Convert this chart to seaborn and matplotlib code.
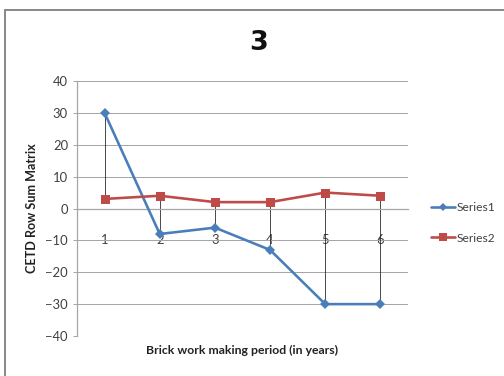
import matplotlib
matplotlib.use("Agg")
import matplotlib.pyplot as plt
from matplotlib.lines import Line2D
from matplotlib.patches import Rectangle
import numpy as np
import pandas as pd
import seaborn as sns

# Data
periods = [1, 2, 3, 4, 5, 6]
series1 = [30, -8, -6, -13, -30, -30]
series2 = [3, 4, 2, 2, 5, 4]
series_names = ["Series1", "Series2"]
y_ticks = [40, 30, 20, 10, 0, -10, -20, -30, -40]

title = "3"
x_label = "Brick work making period (in years)"
y_label = "CETD Row Sum Matrix"

df = pd.DataFrame({
    "period": periods * 2,
    "value": series1 + series2,
    "series": [series_names[0]] * len(periods) + [series_names[1]] * len(periods),
})

sns.set_theme(style="white")
plt.rcParams["font.family"] = ["Lato", "DejaVu Sans"]

blue = "#4A7EBB"
red = "#BE4B48"
grid_c = "#a6a6a6"
text_c = "#404040"

fig = plt.figure(figsize=(504 / 72, 376 / 72), dpi=72)
ax = fig.add_axes([77 / 504, 1 - 336 / 376, (408 - 77) / 504, (336 - 81) / 376])

# High-low lines between the two series at each period
lo = np.minimum(series1, series2)
hi = np.maximum(series1, series2)
ax.vlines(periods, lo, hi, color="#222222", linewidth=0.8, zorder=2)

sns.lineplot(
    data=df, x="period", y="value", hue="series", style="series",
    palette=[blue, red], markers=["D", "s"], dashes=False,
    linewidth=2.6, markersize=8, markeredgewidth=0, ax=ax, legend=False, zorder=3,
)
for line, ms in zip(ax.lines, [7, 9]):
    line.set_markersize(ms)

ax.set_xlim(0.5, 6.5)
ax.set_ylim(-40, 40)
ax.set_yticks(y_ticks)
ax.set_xticks(periods)
ax.set_xticklabels([str(p) for p in periods])
ax.yaxis.grid(True, color=grid_c, linewidth=1)
ax.set_axisbelow(True)

for s in ["top", "right"]:
    ax.spines[s].set_visible(False)
ax.spines["left"].set_color(grid_c)
ax.spines["bottom"].set_color(grid_c)
ax.spines["bottom"].set_position(("data", 0))

ax.tick_params(axis="y", which="major", left=True, length=4, width=1, color=grid_c,
               labelsize=13, labelcolor=text_c, pad=5)
ax.tick_params(axis="x", which="major", bottom=False, labelsize=13,
               labelcolor=text_c, pad=20)

ax.set_xlabel("")
ax.set_ylabel("")
fig.text(242 / 504, 1 - 350 / 376, x_label, ha="center", va="center",
         fontsize=12.3, fontweight="bold", color="#222222")
fig.text(32 / 504, 1 - 208 / 376, y_label, ha="center", va="center", rotation=90,
         fontsize=12.6, fontweight="bold", color="#222222")
fig.text(259 / 504, 1 - 43 / 376, title, ha="center", va="center",
         fontsize=27, fontweight="bold", color="#111111",
         family=["DejaVu Sans"])

# Legend
handles = [
    Line2D([], [], color=blue, marker="D", markersize=6, markeredgewidth=0, linewidth=2.6),
    Line2D([], [], color=red, marker="s", markersize=8, markeredgewidth=0, linewidth=2.6),
]
fig.legend(handles, series_names, loc="center left",
           bbox_to_anchor=(425 / 504, 1 - 223 / 376), frameon=False,
           fontsize=12, labelcolor=text_c, handlelength=2.0, handletextpad=0.15,
           labelspacing=1.6, borderpad=0)

# Chart-area border
fig.add_artist(Rectangle((5 / 504, -0.05), 1.1, 1 - 9.5 / 376 + 0.05,
                         transform=fig.transFigure, fill=False,
                         edgecolor="#8a8a8a", linewidth=2))

fig.savefig("out.png", dpi=72)
